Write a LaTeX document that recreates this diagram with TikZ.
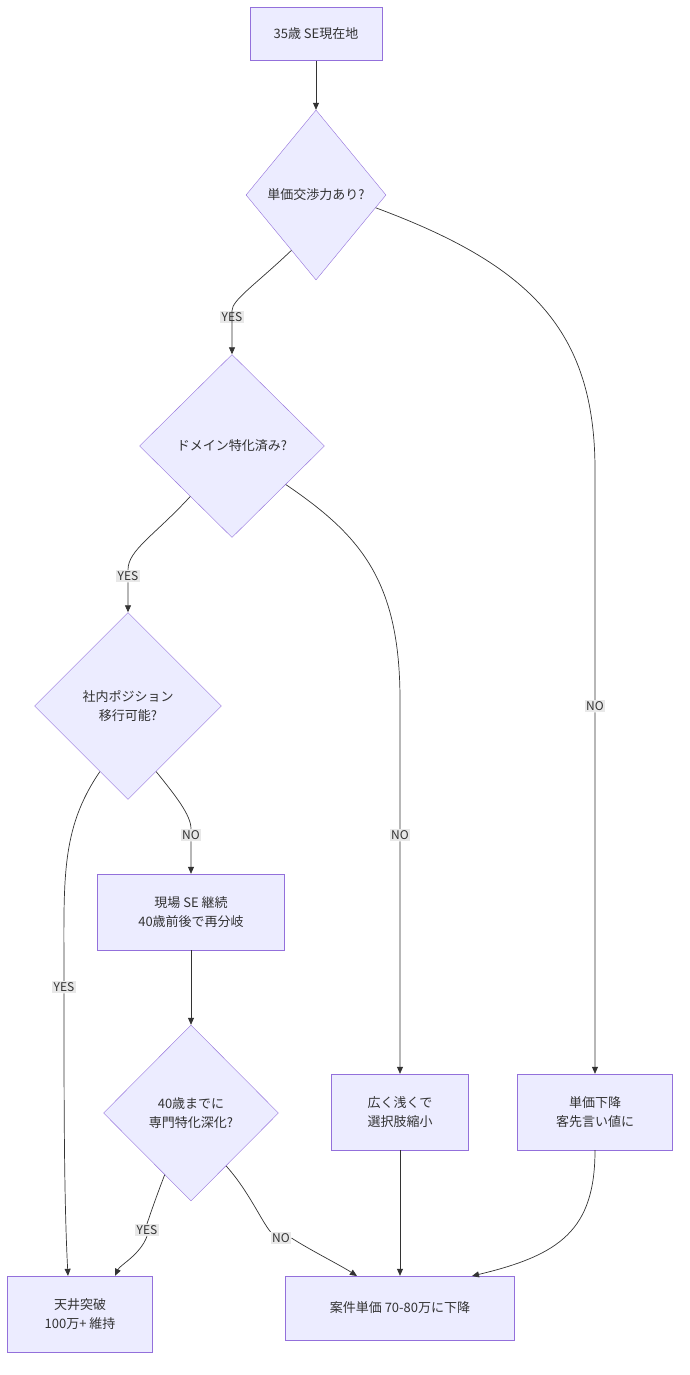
\documentclass[tikz,border=0pt]{standalone}
\usepackage{fontspec}
\setmainfont{Noto Sans CJK JP}
\usetikzlibrary{shapes.geometric,arrows.meta,calc,positioning}
\definecolor{mfill}{HTML}{ECECFF}
\definecolor{mline}{HTML}{9370DB}
\definecolor{lblbg}{HTML}{E8E8E8}
\definecolor{edge}{HTML}{333333}
\begin{document}
\begin{tikzpicture}[x=1pt,y=-1pt,
  every node/.style={font=\fontsize{13}{19}\selectfont,align=center,text=edge},
  box/.style={rectangle,draw=mline,fill=mfill,inner sep=0pt},
  choice/.style={diamond,draw=mline,fill=mfill,inner sep=0pt},
  lbl/.style={fill=lblbg,inner sep=1.5pt,font=\fontsize{12}{14}\selectfont},
  flow/.style={draw=edge,-{Triangle[length=7pt,width=6pt]},line width=0.7pt}]
   \useasboundingbox (0,0) rectangle (689,1375);
   % nodes
   \node (now) [box,minimum width=132pt,minimum height=53pt] at (316,34) {35歳 SE現在地};
   \node (nego) [choice,minimum width=140pt,minimum height=170pt] at (316,195) {単価交渉力あり?};
   \node (domain) [choice,minimum width=185pt,minimum height=183pt] at (232,446) {ドメイン特化済み?};
   \node (pos) [choice,minimum width=187pt,minimum height=187pt] at (128,706) {社内ポジション\\移行可能?};
   \node (field) [box,minimum width=187pt,minimum height=76pt] at (191,912) {現場 SE 継続\\40歳前後で再分岐};
   \node (deep) [choice,minimum width=175pt,minimum height=176pt] at (191,1113) {40歳までに\\専門特化深化?};
   \node (wide) [box,minimum width=137pt,minimum height=76pt] at (400,1112) {広く浅くで\\選択肢縮小};
   \node (drop) [box,minimum width=155pt,minimum height=76pt] at (595,1112) {単価下降\\客先言い値に};
   \node (top) [box,minimum width=145pt,minimum height=76pt] at (80,1314) {天井突破\\100万+ 維持};
   \node (down) [box,minimum width=229pt,minimum height=64pt] at (400,1308) {案件単価 70-80万に下降};
   % labels
   \node (y1) [lbl] at (232,317) {YES};
   \node (n1) [lbl] at (595,706) {NO};
   \node (y2) [lbl] at (128,576) {YES};
   \node (n2) [lbl] at (400,835) {NO};
   \node (y3) [lbl] at (64,987) {YES};
   \node (n3) [lbl] at (191,835) {NO};
   \node (y4) [lbl] at (147,1230) {YES};
   \node (n4) [lbl] at (281,1238) {NO};
   % edges
   \draw[flow] (now) -- (nego);
   \draw[flow] ($(nego.west)!0.65!(nego.south)$) .. controls (255,285) and (232,300) .. (y1.north) -- (y1.south) -- (domain.north);
   \draw[flow] ($(nego.east)!0.15!(nego.south)$) .. controls (530,265) and (595,330) .. (595,470) -- (n1.north) (n1.south) -- (drop.north);
   \draw[flow] ($(domain.west)!0.55!(domain.south)$) .. controls (155,535) and (128,550) .. (y2.north) (y2.south) -- (pos.north);
   \draw[flow] ($(domain.east)!0.42!(domain.south)$) .. controls (360,535) and (400,580) .. (400,700) -- (n2.north) (n2.south) -- (wide.north);
   \draw[flow] ($(pos.west)!0.7!(pos.south)$) .. controls (60,830) and (64,880) .. (y3.north) (y3.south) .. controls (64,1100) and (64,1200) .. (top.north -| 68,0);
   \draw[flow] ($(pos.east)!0.7!(pos.south)$) .. controls (175,795) and (191,815) .. (n3.north) (n3.south) -- (field.north);
   \draw[flow] (field) -- (deep);
   \draw[flow] ($(deep.west)!0.7!(deep.south)$) .. controls (155,1200) and (150,1215) .. (y4.north) (y4.south) .. controls (140,1255) and (120,1265) .. (top.north east -| 115,0);
   \draw[flow] ($(deep.east)!0.6!(deep.south)$) .. controls (248,1190) and (262,1222) .. (n4.north west) (n4.east) .. controls (310,1250) and (340,1265) .. (357,1276);
   \draw[flow] (wide) -- (down);
   \draw[flow] (drop.south) .. controls (595,1230) and (560,1255) .. (472,1276);
\end{tikzpicture}
\end{document}
